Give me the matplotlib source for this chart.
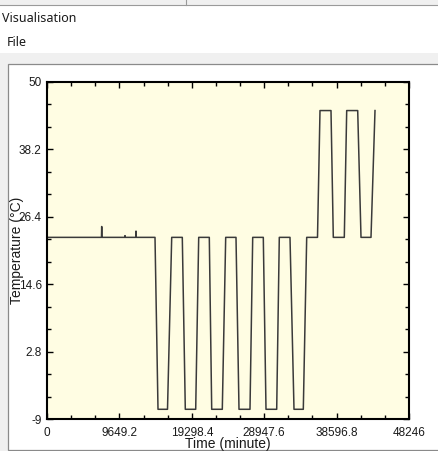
import matplotlib
matplotlib.use("Agg")
import matplotlib.pyplot as plt
from matplotlib.patches import Rectangle
from matplotlib.lines import Line2D
from matplotlib.ticker import AutoMinorLocator, FixedLocator

# ---- data ----
time_min = [0, 7260, 7290, 7320, 10370, 10396, 10420, 11830, 11862, 11890,
            14394, 14794, 16060, 16620, 18032, 18432, 19818, 20218, 21631, 21951,
            23363, 23816, 25189, 25589, 27055, 27415, 28828, 29187, 30613, 30960,
            32386, 32919, 34159, 34612, 36051, 36384, 37850, 38157, 39623, 39943,
            41409, 41849, 43181, 43715]
temp_c = [22.8, 22.8, 24.7, 22.8, 22.8, 23.1, 22.8, 22.8, 23.9, 22.8,
          22.8, -7.3, -7.3, 22.8, 22.8, -7.3, -7.3, 22.8, 22.8, -7.3,
          -7.3, 22.8, 22.8, -7.3, -7.3, 22.8, 22.8, -7.3, -7.3, 22.8,
          22.8, -7.3, -7.3, 22.8, 22.8, 45.0, 45.0, 22.8, 22.8, 45.0,
          45.0, 22.8, 22.8, 45.0]

x_ticks = [0, 9649.2, 19298.4, 28947.6, 38596.8, 48246]
x_tick_labels = ["0", "9649.2", "19298.4", "28947.6", "38596.8", "48246"]
y_ticks = [-9, 2.8, 14.6, 26.4, 38.2, 50]
y_tick_labels = ["-9", "2.8", "14.6", "26.4", "38.2", "50"]

W, H = 438, 451
fig = plt.figure(figsize=(W / 100, H / 100), dpi=100)
fig.patch.set_facecolor("#f0f0f0")


def rect(x, y, w, h, **kw):
    return Rectangle((x / W, 1 - (y + h) / H), w / W, h / H,
                     transform=fig.transFigure, zorder=-10, **kw)


def hline(y, x0, x1, color, lw=1.0):
    return Line2D([x0 / W, x1 / W], [1 - y / H, 1 - y / H],
                  transform=fig.transFigure, color=color, lw=lw, zorder=-5)


def vline(x, y0, y1, color, lw=1.0):
    return Line2D([x / W, x / W], [1 - y0 / H, 1 - y1 / H],
                  transform=fig.transFigure, color=color, lw=lw, zorder=-5)


# window chrome
fig.patches.append(rect(0, 5, W, 48, facecolor="white", edgecolor="none"))
fig.lines.append(hline(4.5, 0, W, "#9a9a9a", 0.8))
fig.lines.append(vline(185.5, 0, 4.5, "#9a9a9a", 0.8))
fig.patches.append(rect(7.5, 63.5, W, 386, facecolor="white",
                        edgecolor="#8a8a8a", lw=0.9))

ui_font = ["Noto Sans", "DejaVu Sans"]
fig.text(2 / W, 1 - 18 / H, "Visualisation", family=ui_font, fontsize=9,
         ha="left", va="center", color="#1a1a1a")
fig.text(7 / W, 1 - 43 / H, "File", family=ui_font, fontsize=9,
         ha="left", va="center", color="#1a1a1a")

# plot axes
ax_l, ax_t, ax_r, ax_b = 47, 82, 409, 419
ax = fig.add_axes([ax_l / W, 1 - ax_b / H, (ax_r - ax_l) / W, (ax_b - ax_t) / H])
ax.set_facecolor("#fffde3")
ax.plot(time_min, temp_c, color="#3a3a3a", lw=1.1)

ax.set_xlim(x_ticks[0], x_ticks[-1])
ax.set_ylim(y_ticks[0], y_ticks[-1])
ax.xaxis.set_major_locator(FixedLocator(x_ticks))
ax.yaxis.set_major_locator(FixedLocator(y_ticks))
ax.set_xticklabels(x_tick_labels)
ax.set_yticklabels(y_tick_labels)
ax.xaxis.set_minor_locator(AutoMinorLocator(3))
ax.yaxis.set_minor_locator(AutoMinorLocator(3))

tick_font = "Liberation Sans"
for s in ax.spines.values():
    s.set_linewidth(1.5)
    s.set_color("black")
ax.tick_params(which="both", direction="in", top=True, right=True,
               color="black", width=1.0)
ax.tick_params(which="major", length=4.0)
ax.tick_params(which="minor", length=2.6)
ax.tick_params(axis="x", which="major", pad=6, labelsize=8.5, labelcolor="#1a1a1a")
ax.tick_params(axis="y", which="major", pad=3.8, labelsize=8.5, labelcolor="#1a1a1a")
for lab in ax.get_xticklabels() + ax.get_yticklabels():
    lab.set_family(tick_font)

ax.set_xlabel("Time (minute)", family=tick_font, fontsize=10, color="#1a1a1a")
ax.xaxis.set_label_coords(0.5, -0.053)
ax.set_ylabel("Temperature (°C)", family=tick_font, fontsize=10,
              color="#1a1a1a", va="center")
ax.yaxis.set_label_coords(-0.083, 0.5)

fig.savefig("out.png", dpi=100, facecolor=fig.get_facecolor())
